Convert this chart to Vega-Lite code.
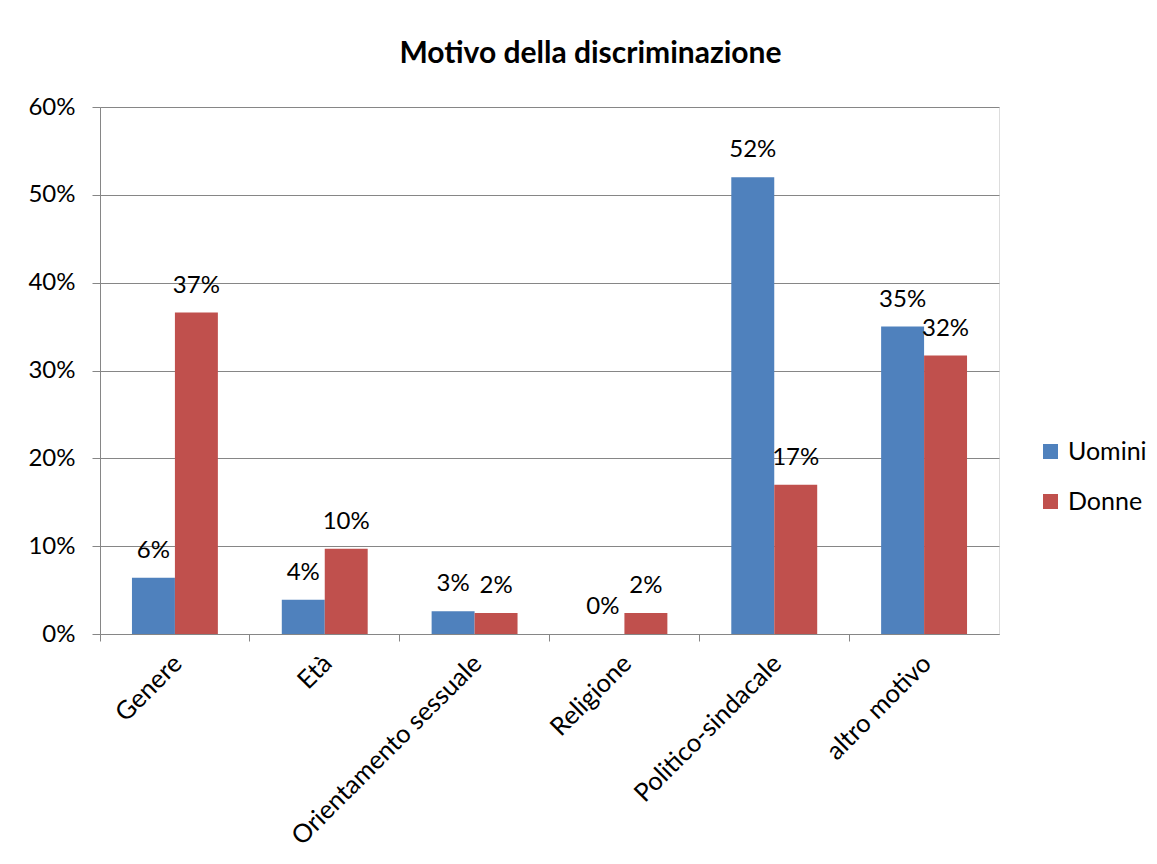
{
  "$schema": "https://vega.github.io/schema/vega-lite/v6.json",
  "width": 899,
  "height": 527,
  "autosize": {"type": "none"},
  "padding": {"left": 100, "top": 107, "right": 158, "bottom": 230},
  "background": "white",
  "title": {
    "text": "Motivo della discriminazione",
    "font": "Lato",
    "fontSize": 30,
    "fontWeight": "bold",
    "color": "#000000",
    "anchor": "middle",
    "dx": 41,
    "offset": 26
  },
  "data": {
    "values": [
      {"motivo": "Genere", "sesso": "Uomini", "quota": 0.064},
      {"motivo": "Genere", "sesso": "Donne", "quota": 0.366},
      {"motivo": "Età", "sesso": "Uomini", "quota": 0.039},
      {"motivo": "Età", "sesso": "Donne", "quota": 0.097},
      {"motivo": "Orientamento sessuale", "sesso": "Uomini", "quota": 0.026},
      {"motivo": "Orientamento sessuale", "sesso": "Donne", "quota": 0.024},
      {"motivo": "Religione", "sesso": "Uomini", "quota": 0.0},
      {"motivo": "Religione", "sesso": "Donne", "quota": 0.024},
      {"motivo": "Politico-sindacale", "sesso": "Uomini", "quota": 0.52},
      {"motivo": "Politico-sindacale", "sesso": "Donne", "quota": 0.17},
      {"motivo": "altro motivo", "sesso": "Uomini", "quota": 0.35},
      {"motivo": "altro motivo", "sesso": "Donne", "quota": 0.317}
    ]
  },
  "encoding": {
    "x": {
      "field": "motivo",
      "type": "nominal",
      "sort": null,
      "scale": {"paddingInner": 0, "paddingOuter": 0},
      "axis": {
        "title": null,
        "grid": false,
        "bandPosition": 0,
        "domainColor": "#868686",
        "tickColor": "#868686",
        "tickSize": 7,
        "labelAngle": -45,
        "labelAlign": "right",
        "labelBaseline": "middle",
        "labelPadding": 18,
        "labelOffset": 3,
        "labelLimit": 0,
        "labelFont": "Lato",
        "labelFontSize": 25.5,
        "labelColor": "#000000"
      }
    },
    "xOffset": {
      "field": "sesso",
      "type": "nominal",
      "sort": ["Uomini", "Donne"],
      "scale": {"paddingInner": 0, "paddingOuter": 0.744}
    },
    "y": {
      "field": "quota",
      "type": "quantitative",
      "scale": {"domain": [0, 0.6], "nice": false},
      "axis": {
        "title": null,
        "values": [0, 0.1, 0.2, 0.3, 0.4, 0.5, 0.6],
        "format": ".0%",
        "grid": true,
        "gridColor": "#868686",
        "gridWidth": 1,
        "domainColor": "#868686",
        "tickColor": "#868686",
        "tickSize": 8,
        "labelPadding": 17,
        "labelFont": "Lato",
        "labelFontSize": 24,
        "labelColor": "#000000"
      }
    }
  },
  "layer": [
    {
      "mark": {"type": "bar"},
      "encoding": {
        "color": {
          "field": "sesso",
          "type": "nominal",
          "sort": ["Uomini", "Donne"],
          "scale": {"domain": ["Uomini", "Donne"], "range": ["#4F81BD", "#C0504D"]},
          "legend": {
            "orient": "none",
            "legendX": 938,
            "legendY": 332,
            "title": null,
            "symbolType": "square",
            "symbolSize": 225,
            "symbolStrokeWidth": 0,
            "symbolOpacity": 1,
            "labelFont": "Lato",
            "labelFontSize": 25,
            "labelColor": "#000000",
            "labelOffset": 5,
            "rowPadding": 24
          }
        }
      }
    },
    {
      "mark": {
        "type": "text",
        "dy": -20,
        "baseline": "alphabetic",
        "align": "center",
        "font": "Lato",
        "fontSize": 24,
        "color": "#000000"
      },
      "encoding": {
        "text": {"field": "quota", "type": "quantitative", "format": ".0%"}
      }
    }
  ]
}
